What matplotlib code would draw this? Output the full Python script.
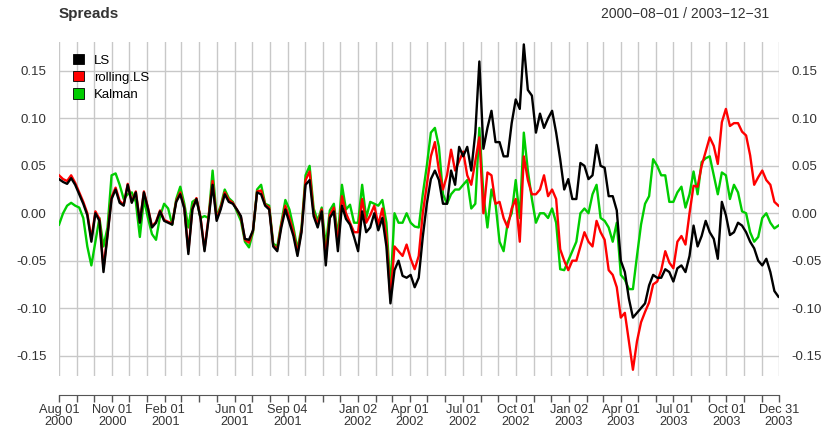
import numpy as np
import pandas as pd
import matplotlib
matplotlib.use("Agg")
import matplotlib.pyplot as plt
from matplotlib.patches import Patch

plt.rcParams["font.family"] = ["Liberation Sans", "DejaVu Sans"]

# weekly readings of the three spread series
dates = pd.date_range("2000-08-01", periods=179, freq="7D")

ls = [0.036, 0.033, 0.031, 0.037, 0.030, 0.020, 0.010, -0.002, -0.030, 0.000,
      -0.008, -0.062, -0.024, 0.015, 0.025, 0.011, 0.008, 0.030, 0.011, 0.022,
      -0.010, 0.022, 0.005, -0.015, -0.010, 0.002, -0.008, -0.010, -0.012, 0.012,
      0.020, 0.005, -0.043, 0.004, 0.015, -0.005, -0.040, -0.006, 0.030, -0.008,
      0.004, 0.020, 0.012, 0.010, 0.004, -0.003, -0.027, -0.028, -0.018, 0.022,
      0.020, 0.008, 0.004, -0.035, -0.040, -0.015, 0.004, -0.010, -0.024, -0.045,
      -0.020, 0.030, 0.035, -0.003, -0.015, 0.002, -0.055, -0.005, 0.002, -0.040,
      0.008, -0.006, -0.012, -0.025, -0.040, 0.002, -0.020, -0.015, 0.000, -0.018,
      -0.005, -0.035, -0.095, -0.060, -0.050, -0.066, -0.068, -0.065, -0.078, -0.068,
      -0.025, 0.010, 0.036, 0.045, 0.035, 0.010, 0.010, 0.045, 0.030, 0.070,
      0.060, 0.070, 0.045, 0.085, 0.160, 0.068, 0.090, 0.108, 0.075, 0.075,
      0.060, 0.060, 0.095, 0.120, 0.110, 0.178, 0.130, 0.124, 0.085, 0.105,
      0.090, 0.100, 0.108, 0.085, 0.057, 0.025, 0.036, 0.015, 0.015, 0.053,
      0.050, 0.036, 0.040, 0.072, 0.050, 0.048, 0.018, 0.018, 0.003, -0.050,
      -0.062, -0.090, -0.110, -0.105, -0.100, -0.095, -0.076, -0.065, -0.068, -0.068,
      -0.059, -0.062, -0.072, -0.058, -0.055, -0.062, -0.045, -0.013, -0.035, -0.024,
      -0.008, -0.020, -0.027, -0.048, 0.012, -0.002, -0.023, -0.020, -0.010, -0.013,
      -0.020, -0.030, -0.037, -0.050, -0.055, -0.048, -0.062, -0.082, -0.088]

rolling_ls = [0.040, 0.036, 0.034, 0.040, 0.032, 0.022, 0.012, 0.000, -0.027, 0.002,
              -0.006, -0.058, -0.022, 0.017, 0.027, 0.013, 0.009, 0.031, 0.012, 0.023,
              -0.009, 0.023, 0.006, -0.014, -0.009, 0.003, -0.007, -0.009, -0.011, 0.013,
              0.022, 0.006, -0.040, 0.005, 0.016, -0.004, -0.038, -0.004, 0.034, -0.006,
              0.006, 0.022, 0.014, 0.011, 0.004, -0.004, -0.028, -0.031, -0.018, 0.023,
              0.024, 0.009, 0.006, -0.034, -0.038, -0.012, 0.008, -0.005, -0.020, -0.042,
              -0.018, 0.035, 0.044, 0.000, -0.012, 0.004, -0.048, -0.002, 0.006, -0.033,
              0.018, 0.000, -0.010, -0.020, -0.020, 0.015, -0.010, -0.002, 0.008, -0.012,
              0.005, -0.025, -0.090, -0.035, -0.040, -0.045, -0.033, -0.048, -0.059, -0.045,
              0.000, 0.030, 0.060, 0.075, 0.045, 0.025, 0.040, 0.067, 0.045, 0.055,
              0.065, 0.040, 0.030, 0.055, 0.080, 0.000, 0.043, 0.040, 0.010, 0.012,
              -0.005, -0.015, 0.005, 0.015, -0.030, 0.060, 0.035, 0.020, 0.020, 0.025,
              0.040, 0.018, 0.025, 0.015, -0.038, -0.050, -0.060, -0.050, -0.050, -0.035,
              -0.020, -0.030, -0.035, -0.008, -0.020, -0.028, -0.060, -0.065, -0.078, -0.110,
              -0.105, -0.135, -0.165, -0.135, -0.115, -0.104, -0.094, -0.075, -0.072, -0.060,
              -0.040, -0.052, -0.058, -0.030, -0.024, -0.033, 0.000, 0.029, 0.028, 0.050,
              0.065, 0.080, 0.071, 0.052, 0.096, 0.110, 0.092, 0.095, 0.095, 0.086,
              0.082, 0.061, 0.030, 0.038, 0.045, 0.035, 0.030, 0.012, 0.008]

kalman = [-0.012, 0.000, 0.008, 0.011, 0.008, 0.006, -0.005, -0.035, -0.055, -0.030,
          -0.005, -0.035, -0.015, 0.040, 0.042, 0.030, 0.015, 0.020, 0.022, 0.012,
          -0.025, 0.015, -0.005, -0.022, -0.028, -0.003, 0.010, 0.005, -0.012, 0.015,
          0.028, 0.010, -0.015, 0.012, 0.015, -0.005, -0.003, -0.005, 0.045, -0.004,
          0.008, 0.025, 0.016, 0.012, 0.002, -0.008, -0.030, -0.036, -0.020, 0.025,
          0.030, 0.010, 0.008, -0.032, -0.035, -0.010, 0.014, 0.004, -0.015, -0.038,
          -0.015, 0.040, 0.050, 0.005, -0.008, 0.006, -0.035, 0.003, 0.010, -0.025,
          0.030, 0.004, 0.009, -0.010, -0.010, 0.030, -0.005, 0.012, 0.010, 0.008,
          0.014, -0.010, -0.080, 0.000, -0.010, -0.010, 0.000, -0.010, -0.014, -0.015,
          0.020, 0.050, 0.085, 0.090, 0.070, 0.020, 0.010, 0.020, 0.025, 0.025,
          0.030, 0.035, 0.005, 0.010, 0.090, 0.020, -0.015, 0.025, 0.010, -0.030,
          -0.040, -0.010, 0.000, 0.035, -0.005, 0.085, 0.045, 0.015, -0.010, 0.000,
          0.000, -0.005, 0.005, -0.010, -0.059, -0.060, -0.050, -0.040, -0.030, 0.000,
          0.005, 0.000, 0.020, 0.030, -0.005, -0.008, -0.015, -0.030, -0.010, -0.065,
          -0.070, -0.080, -0.080, -0.045, -0.012, 0.010, 0.018, 0.057, 0.050, 0.040,
          0.040, 0.012, 0.012, 0.022, 0.028, 0.006, 0.020, 0.044, 0.020, 0.054,
          0.058, 0.060, 0.040, 0.020, 0.043, 0.040, 0.015, 0.030, 0.022, 0.002,
          0.000, -0.020, -0.030, -0.025, -0.005, 0.000, -0.010, -0.016, -0.013]

series_names = ["LS", "rolling.LS", "Kalman"]
series_colors = ["black", "#FF0000", "#00CD00"]

# x axis: a tick at each month, labels only on some
tick_dates = pd.date_range("2000-08-01", "2003-12-01", freq="MS").append(pd.DatetimeIndex(["2003-12-31"]))
tick_text = {"2000-08-01": "Aug 01\n2000", "2000-11-01": "Nov 01\n2000", "2001-02-01": "Feb 01\n2001",
             "2001-06-01": "Jun 01\n2001", "2001-09-01": "Sep 04\n2001", "2002-01-01": "Jan 02\n2002",
             "2002-04-01": "Apr 01\n2002", "2002-07-01": "Jul 01\n2002", "2002-10-01": "Oct 01\n2002",
             "2003-01-01": "Jan 02\n2003", "2003-04-01": "Apr 01\n2003", "2003-07-01": "Jul 01\n2003",
             "2003-10-01": "Oct 01\n2003", "2003-12-31": "Dec 31\n2003"}
y_ticks = [-0.15, -0.10, -0.05, 0.00, 0.05, 0.10, 0.15]

fig = plt.figure(figsize=(8.29, 4.29), dpi=100)
ax = fig.add_axes([0.0712, 0.1235, 0.8685, 0.7785])

data = [ls, rolling_ls, kalman]
for i in [2, 1, 0]:
    ax.plot(dates, data[i], color=series_colors[i], lw=1.7, zorder=3 + (2 - i))

ax.set_xlim(pd.Timestamp("2000-08-01"), pd.Timestamp("2003-12-31"))
ax.set_ylim(-0.1716, 0.1805)

ax.set_xticks(tick_dates)
ax.set_xticklabels([tick_text.get(d.strftime("%Y-%m-%d"), "") for d in tick_dates])
ax.set_yticks(y_ticks)
ax.set_yticklabels(["%.2f" % v for v in y_ticks])
ax.grid(True, color="#C8C8C8", lw=1.0, zorder=0)

for s in ["top", "left", "right"]:
    ax.spines[s].set_visible(False)
ax.spines["bottom"].set_position(("outward", 14))
ax.spines["bottom"].set_color("#555555")
ax.tick_params(axis="x", direction="out", length=5, width=1, color="#555555",
               labelsize=9.2, labelcolor="#333333", pad=1)
ax.tick_params(axis="y", length=0, labelleft=True, labelright=True,
               labelsize=9.5, labelcolor="#333333", pad=9)
for lab in ax.get_xticklabels():
    lab.set_linespacing(1.0)

handles = [Patch(facecolor=c, edgecolor="black", lw=0.6) for c in series_colors]
ax.legend(handles, series_names, loc="upper left", bbox_to_anchor=(0.003, 1.0), frameon=False,
          fontsize=9.5, handlelength=0.8, handleheight=0.8, handletextpad=0.8,
          labelspacing=0.35, borderpad=0.4)

fig.text(59 / 829, 1 - 14 / 429, "Spreads", fontsize=11, fontweight="bold", color="#333333",
         ha="left", va="center")
fig.text(769 / 829, 1 - 14 / 429, "2000\u221208\u221201 / 2003\u221212\u221231", fontsize=10,
         color="#333333", ha="right", va="center")

fig.savefig("out.png", dpi=100)
